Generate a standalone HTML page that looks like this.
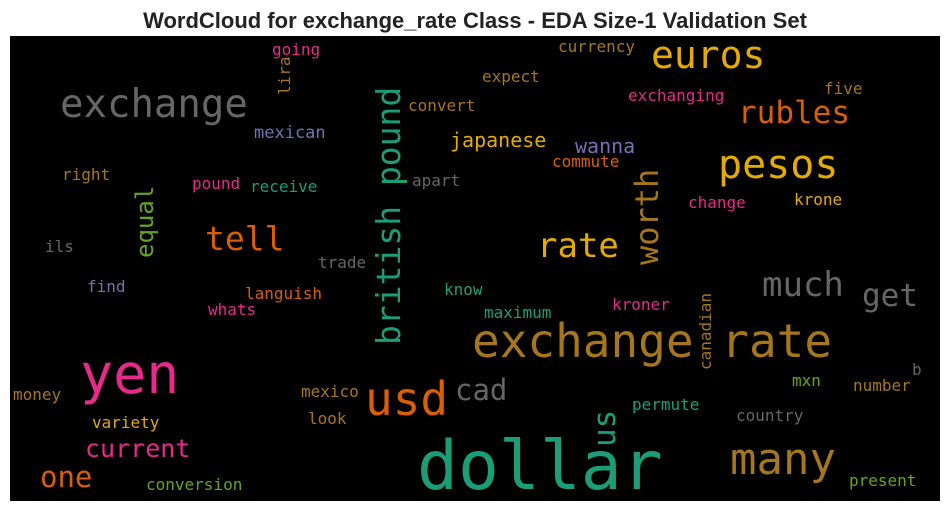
<!DOCTYPE html>
<html><head><meta charset="utf-8"><style>
body{margin:0;background:#fff;width:950px;height:511px;overflow:hidden}
svg text{font-family:"DejaVu Sans Mono","Liberation Mono",monospace}
</style></head><body>
<svg width="950" height="511">
<text x="475" y="28" text-anchor="middle" style="font-family:'Liberation Sans',sans-serif;font-weight:bold;font-size:22px" fill="#222">WordCloud for exchange_rate Class - EDA Size-1 Validation Set</text>
<rect x="10" y="36" width="930" height="465" fill="#000"/>
<g id="words"></g>
</svg>
<script>
const words=["exchange","euros","pesos","rubles","rate","tell","yen","dollar","exchange rate","usd","many","much","get","cad","current","one","japanese","wanna","going","currency","expect","convert","exchanging","five","mexican","commute","right","pound","receive","apart","change","krone","ils","trade","find","know","languish","maximum","kroner","whats","b","mxn","number","mexico","money","country","look","variety","permute","present","conversion","worth","british pound","equal","lira","us","canadian"];
const sizes=[39,38,40,31,34,33,55,68,46,46,44,34,31,29,25,29,20,20,16,16,16,16,16,16,17,16,16,16,16,16,16,16,16,16,16,16,16,16,16,16,16,16,16,16,16,16,16,16,16,16,16,32,33,24,16,31,16];
const xs=[60,651,718,738,537,205,80,417,472,365,730,762,862,455,85,40,450,575,272,558,482,408,628,824,254,552,62,192,250,412,688,794,45,318,87,444,245,484,612,208,912,792,853,301,13,736,308,92,632,849,146,658,400,153,290,615,711];
const ys=[117,68,178,123,257,250,393,489,357,415,474,296,306,400,457,487,147,153,55,52,82,111,101,94,138,167,180,189,192,186,208,205,252,268,292,295,299,318,310,315,375,386,391,397,400,421,424,428,410,486,490,265,345,258,95,447,370];
const vertical=[0,0,0,0,0,0,0,0,0,0,0,0,0,0,0,0,0,0,0,0,0,0,0,0,0,0,0,0,0,0,0,0,0,0,0,0,0,0,0,0,0,0,0,0,0,0,0,0,0,0,0,1,1,1,1,1,1];
const colors=["#666666","#e6ab02","#e6ab02","#d95f02","#e6ab02","#d95f02","#e7298a","#1b9e77","#a6761d","#d95f02","#a6761d","#666666","#666666","#666666","#e7298a","#d95f02","#e6ab02","#7570b3","#e7298a","#a6761d","#a6761d","#a6761d","#e7298a","#a6761d","#7570b3","#d95f02","#a6761d","#e7298a","#1b9e77","#666666","#e7298a","#e6ab02","#666666","#666666","#7570b3","#1b9e77","#d95f02","#1b9e77","#e7298a","#e7298a","#666666","#66a61e","#a6761d","#a6761d","#a6761d","#666666","#a6761d","#e6ab02","#1b9e77","#66a61e","#66a61e","#a6761d","#1b9e77","#66a61e","#a6761d","#1b9e77","#a6761d"];
const g=document.getElementById('words');
words.forEach((w,i)=>{
 const t=document.createElementNS('http://www.w3.org/2000/svg','text');
 t.textContent=w;
 t.setAttribute('font-size',sizes[i]);
 t.setAttribute('fill',colors[i]);
 if(vertical[i]){t.setAttribute('transform','translate('+xs[i]+','+ys[i]+') rotate(-90)');}
 else{t.setAttribute('x',xs[i]);t.setAttribute('y',ys[i]);}
 
 
 g.appendChild(t);
});
</script>
</body></html>
